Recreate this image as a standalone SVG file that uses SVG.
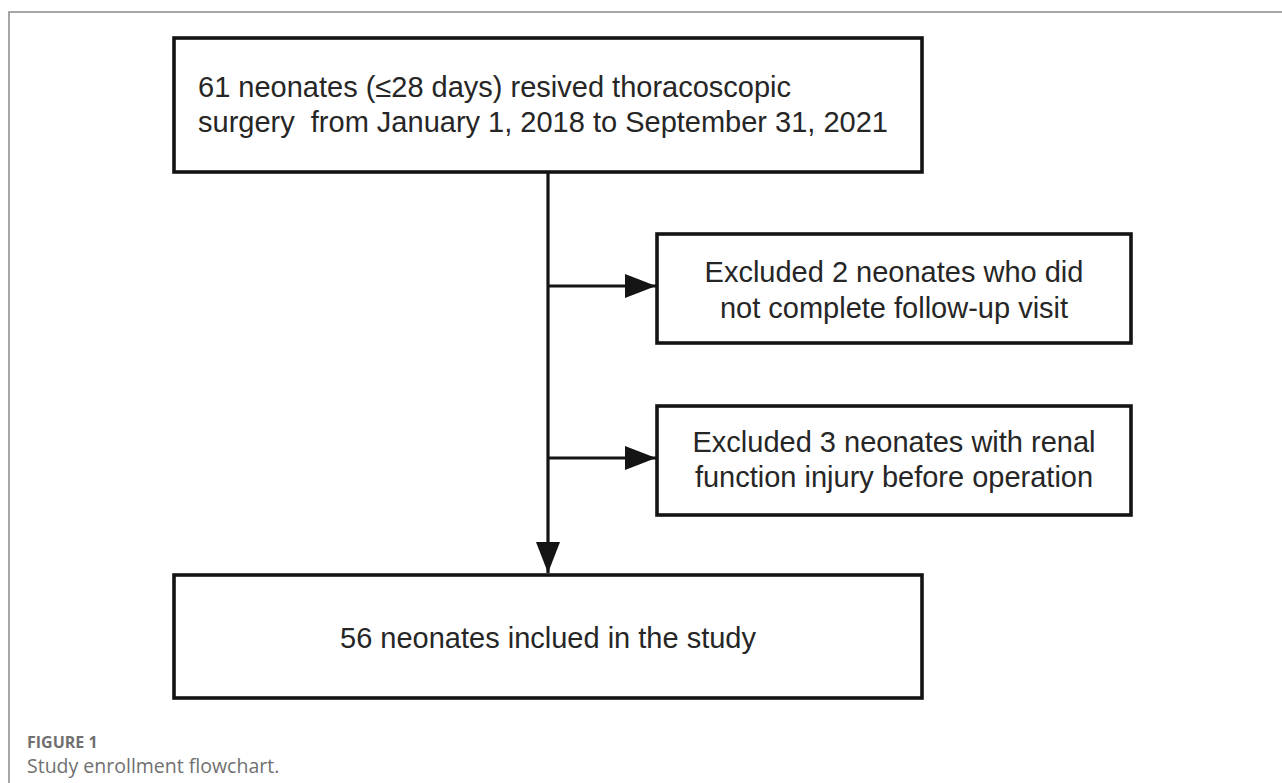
<svg xmlns="http://www.w3.org/2000/svg" width="1282" height="783" viewBox="0 0 1282 783">
<style>
.box{fill:#fff;stroke:#141414;stroke-width:3.6}
.t{font-family:"Liberation Sans",Arial,sans-serif;font-size:29px;fill:#262626}
.c{text-anchor:middle}
.conn{stroke:#141414;stroke-width:3.2;fill:none}
.frame{stroke:#8a8a8a;stroke-width:1.5;fill:none}
.cap1{font-family:"Open Sans",sans-serif;font-size:16px;font-weight:bold;fill:#707070}
.cap2{font-family:"Open Sans",sans-serif;font-size:19.5px;fill:#707070}
</style>
<defs>
<marker id="ah" markerUnits="userSpaceOnUse" markerWidth="31" markerHeight="24" refX="31" refY="12" orient="auto">
<path d="M0,0 L31,12 L0,24 z" fill="#141414"/>
</marker>
</defs>
<rect width="1282" height="783" fill="#fff"/>
<path class="frame" d="M1282,12 H9 V783"/>
<g id="connectors">
<line class="conn" x1="548" y1="172" x2="548" y2="573" marker-end="url(#ah)"/>
<line class="conn" x1="548" y1="286" x2="656" y2="286" marker-end="url(#ah)"/>
<line class="conn" x1="548" y1="458" x2="656" y2="458" marker-end="url(#ah)"/>
</g>
<g id="node-start">
<rect class="box" x="174" y="38" width="748" height="134"/>
<text class="t" x="198" y="97">61 neonates (≤28 days) resived thoracoscopic</text>
<text class="t" x="198" y="132" xml:space="preserve">surgery  from January 1, 2018 to September 31, 2021</text>
</g>
<g id="node-excl1">
<rect class="box" x="657" y="234" width="474" height="109"/>
<text class="t c" x="894" y="282">Excluded 2 neonates who did</text>
<text class="t c" x="894" y="318">not complete follow-up visit</text>
</g>
<g id="node-excl2">
<rect class="box" x="657" y="406" width="474" height="109"/>
<text class="t c" x="894" y="452">Excluded 3 neonates with renal</text>
<text class="t c" x="894" y="487">function injury before operation</text>
</g>
<g id="node-final">
<rect class="box" x="174" y="575" width="748" height="123"/>
<text class="t c" x="548" y="648">56 neonates inclued in the study</text>
</g>
<text class="cap1" x="27" y="748">FIGURE 1</text>
<text class="cap2" x="27" y="773">Study enrollment flowchart.</text>
</svg>
